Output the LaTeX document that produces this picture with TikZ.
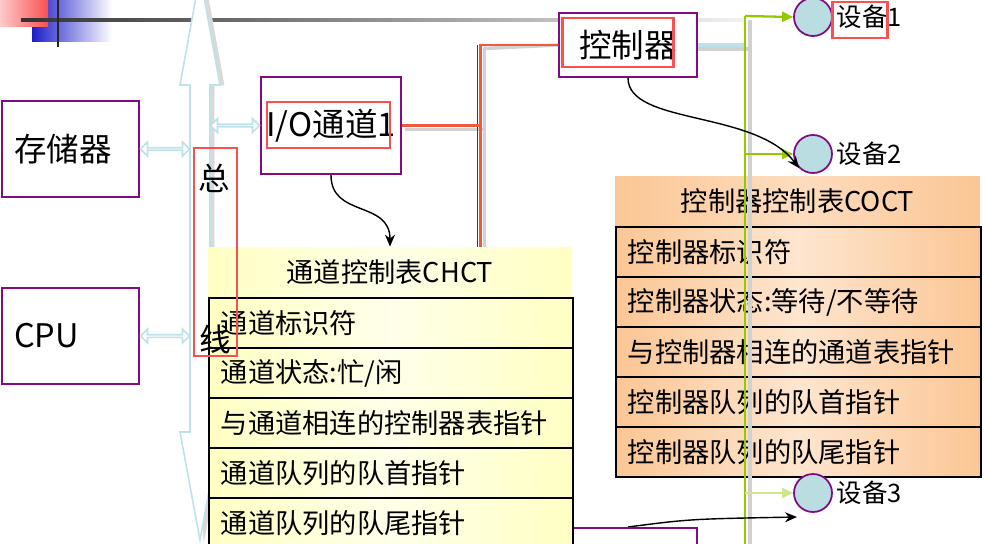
\documentclass[tikz,border=0pt]{standalone}
\usepackage{fontspec}
\setmainfont{Noto Sans CJK SC}
\usetikzlibrary{calc,positioning,arrows.meta,shapes.arrows}

\definecolor{boxpurple}{RGB}{130,10,130}
\definecolor{hired}{RGB}{250,80,80}
\definecolor{linkred}{RGB}{240,90,60}
\definecolor{pipecyan}{RGB}{190,226,232}
\definecolor{devcyan}{RGB}{186,221,226}
\definecolor{limeline}{RGB}{150,200,0}
\definecolor{chyellow}{RGB}{255,255,195}
\definecolor{coorange}{RGB}{251,198,148}
\definecolor{logoblue}{RGB}{30,30,200}

\newcommand{\tblfont}{\fontsize{15.5}{18}\selectfont}
\newcommand{\boxfont}{\fontsize{18.5}{21}\selectfont}

\tikzset{
  box/.style={draw=boxpurple, line width=1.1pt, fill=white, inner sep=0pt, font=\boxfont},
  hilite/.style={draw=hired, line width=1.7pt},
  devc/.style={circle, draw=boxpurple, line width=1pt, fill=devcyan, minimum size=0.76cm, inner sep=0pt},
  devlbl/.style={font=\fontsize{14.5}{16}\selectfont, inner sep=1pt},
  dblarr/.style={double arrow, draw=pipecyan, line width=0.9pt, fill=white, minimum width=0.28cm,
    double arrow head extend=0.07cm, inner sep=0pt},
  shadowline/.style={draw=black!18, line width=2pt},
  chhead/.style={minimum width=7.28cm, minimum height=1cm, inner sep=0pt, font=\tblfont,
    left color=chyellow, right color=chyellow, middle color=chyellow!40!white},
  chrow/.style={draw=black, line width=1.1pt, minimum width=7.28cm, minimum height=1cm,
    text width=6.8cm, align=left, inner xsep=0.24cm, inner ysep=0pt, font=\tblfont,
    left color=chyellow, right color=chyellow, middle color=chyellow!35!white},
  cohead/.style={minimum width=7.3cm, minimum height=1cm, inner sep=0pt, font=\tblfont,
    left color=coorange, right color=coorange, middle color=coorange!60!white},
  corow/.style={draw=black, line width=1.1pt, minimum width=7.3cm, minimum height=1cm,
    text width=6.82cm, align=left, inner xsep=0.24cm, inner ysep=0pt, font=\tblfont,
    left color=coorange, right color=coorange, middle color=coorange!45!white},
  curvearr/.style={-{Stealth[length=0.24cm,width=0.2cm]}, black, line width=0.8pt},
  greenarr/.style={-{Triangle[length=0.22cm,width=0.2cm]}, limeline, line width=1.3pt}
}

\begin{document}
\begin{tikzpicture}[x=0.02cm, y=-0.02cm]
    \clip (0,0) rectangle (987,544);

    %----------------------------------------
    % slide logo and top rule
    %----------------------------------------
    \shade[left color=logoblue, right color=white] (32,0) rectangle (112,42);
    \shade[left color=hired!30, right color=hired] (0,0) rectangle (48,27);
    \shade[left color=black!80, right color=black!5] (21,18.5) rectangle (745,21.5);
    \draw[black!85, line width=1.4pt] (58,0) -- (58,47);

    %----------------------------------------
    % system bus (big hollow arrow)
    %----------------------------------------
    \filldraw[black!15] (204,-25) -- (224,85) -- (214,85) -- (214,432) -- (224,432)
        -- (204,540) -- (194,432) -- (194,85) -- cycle;
    \filldraw[draw=pipecyan, fill=white, line width=0.9pt] (200,-25) -- (220,85) -- (210,85)
        -- (210,432) -- (220,432) -- (200,540) -- (180,432) -- (190,432) -- (190,85)
        -- (180,85) -- cycle;
    \coordinate (busL) at (190,0);
    \coordinate (busR) at (210,0);

    %----------------------------------------
    % boxes
    %----------------------------------------
    \node[box, minimum width=2.74cm, minimum height=1.92cm, text width=2.26cm, align=left,
        inner xsep=0.24cm] (mem) at (70.5,149) {存储器};
    \node[box, minimum width=2.74cm, minimum height=1.92cm, text width=2.26cm, align=left,
        inner xsep=0.24cm] (cpu) at (70.5,336) {CPU};
    \node[box, minimum width=2.8cm, minimum height=1.94cm] (io) at (331,125.5) {I/O通道1};
    \node[box, minimum width=2.76cm, minimum height=1.28cm] (ctrl) at (628,45) {控制器};

    % hollow double arrows to the bus
    \path (mem.east) -- (mem.east -| busL) node[midway, dblarr, minimum height=0.98cm] (a1) {};
    \path (cpu.east) -- (cpu.east -| busL) node[midway, dblarr, minimum height=0.98cm] (a2) {};
    \path (io.west -| busR) -- (io.west) node[midway, dblarr, minimum height=0.98cm] (a3) {};

    %----------------------------------------
    % channel -> controller link
    %----------------------------------------
    \coordinate (vtop) at (480.5,45);
    \coordinate (vbot) at (480.5,544);
    \draw[shadowline] (405,129.5) -- (484,129.5);
    \draw[shadowline] (484.5,48.5) -- (484.5,544);
    \draw[shadowline] (484,48.5) -- (ctrl.west);
    \draw[boxpurple, line width=1.1pt] (477.5,45) -- (477.5,544);
    \draw[linkred, line width=1.4pt] (io.east) -- (io.east -| vtop);
    \draw[linkred, line width=1.4pt] (vbot) -- (vtop) -- (ctrl.west);

    % controller -> device line
    \coordinate (gtop) at (745,16);
    \coordinate (gbot) at (745,544);
    \draw[shadowline] (ctrl.east |- 0,49) -- (750,49);
    \draw[pipecyan, line width=2pt] (ctrl.east) -- (ctrl.east -| gtop);

    %----------------------------------------
    % channel control table CHCT
    %----------------------------------------
    \node[chhead] (chct) at (390,272) {通道控制表CHCT};
    \foreach \t [count=\i] in {通道标识符, 通道状态:忙/闲, 与通道相连的控制器表指针,
        通道队列的队首指针, 通道队列的队尾指针}{
       \node[chrow, anchor=north west] (ch\i) at (208,{247+50*\i}) {\t};
    }

    %----------------------------------------
    % controller control table COCT
    %----------------------------------------
    \node[cohead] (coct) at (797.5,201) {控制器控制表COCT};
    \foreach \t [count=\i] in {控制器标识符, 控制器状态:等待/不等待, 与控制器相连的通道表指针,
        控制器队列的队首指针, 控制器队列的队尾指针}{
       \node[corow, anchor=north west] (co\i) at (615,{176+50*\i}) {\t};
    }

    %----------------------------------------
    % devices
    %----------------------------------------
    \node[devc] (dev1) at (813,17) {};
    \node[devc] (dev2) at (813,154) {};
    \node[devc] (dev3) at (813,493) {};
    \node[devlbl, right=1pt of dev1] (lbl1) {设备1};
    \node[devlbl, right=1pt of dev2] (lbl2) {设备2};
    \node[devlbl, right=1pt of dev3] (lbl3) {设备3};

    \draw[shadowline] (750,20) -- (750,544);
    \draw[limeline, line width=1.3pt] (gtop) -- (gbot);
    \draw[greenarr] (gtop) -- (dev1.west);
    \draw[greenarr] (dev2.west -| gtop) -- (dev2.west);
    \draw[greenarr, limeline!45] (dev3.west -| gtop) -- (dev3.west);

    %----------------------------------------
    % pointers
    %----------------------------------------
    \draw[curvearr] (io.south) .. controls (331,218) and (390,200) .. (chct.north);
    \draw[curvearr] (ctrl.south) .. controls (628,125) and (755,110) .. (dev2.south west);
    \coordinate (tailp) at (628,527);
    \coordinate (tailq) at (797,517);
    \draw[curvearr] (tailp) .. controls (690,519) .. (tailq);
    \coordinate (tailr) at (697,544);
    \draw[boxpurple, line width=1.1pt] (ch5.east |- 0,528) -- (697,528) -- (tailr);

    %----------------------------------------
    % bus label and red marks
    %----------------------------------------
    \node[font=\fontsize{18}{20}\selectfont, inner sep=0pt] (zong) at (214,178) {总};
    \node[font=\fontsize{18}{20}\selectfont, inner sep=0pt] (xian) at (215,339) {线};
    \draw[hilite] (194,148) rectangle (237,356);
    \draw[hilite] (267,102) rectangle (390,148);
    \draw[hilite] (562,18) rectangle (673,67);
    \draw[hilite] (832,2) rectangle (887,38);

\end{tikzpicture}
\end{document}
